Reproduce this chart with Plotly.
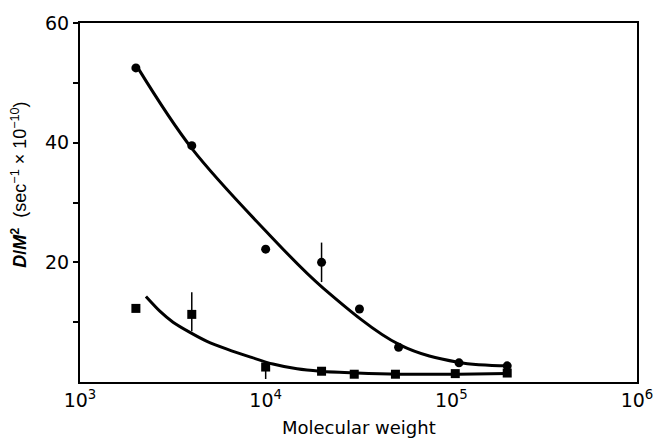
import plotly.graph_objects as go

# Circle series (data points)
circ_x = [2000, 4000, 10000, 20000, 32000, 52000, 110000, 200000]
circ_y = [52.5, 39.5, 22.2, 20.0, 12.2, 5.8, 3.2, 2.7]
circ_err = [0, 0, 0, 3.3, 0, 0, 0, 0]

# Square series (data points)
sq_x = [2000, 4000, 10000, 20000, 30000, 50000, 105000, 200000]
sq_y = [12.3, 11.3, 2.5, 1.8, 1.3, 1.3, 1.4, 1.5]
sq_err_plus = [0, 3.7, 0, 0, 0, 0, 0, 0]
sq_err_minus = [0, 2.8, 2.0, 0, 0, 0, 0, 0]

# Fitted curves
fit1_x = [2050, 4010, 10550, 20400, 52800, 108600, 200000]
fit1_y = [52.5, 39.0, 24.5, 15.7, 6.2, 3.3, 2.7]
fit2_x = [2265, 2700, 3170, 3910, 4830, 6190, 8220, 10940, 14750, 19600, 30900, 52800, 108600, 200000]
fit2_y = [14.3, 11.8, 10.0, 8.3, 6.8, 5.5, 4.2, 3.0, 2.2, 1.8, 1.5, 1.3, 1.3, 1.4]

x_tickvals = [1e3, 1e4, 1e5, 1e6]
x_ticktext = ["10<sup>3</sup>", "10<sup>4</sup>", "10<sup>5</sup>", "10<sup>6</sup>"]
y_tickvals = [20, 40, 60]
y_ticktext = ["20", "40", "60"]
y_minorvals = [10, 30, 50]

fig = go.Figure()
fig.add_trace(go.Scatter(x=fit1_x, y=fit1_y, mode="lines",
                         line=dict(color="black", width=3, shape="spline", smoothing=1.0)))
fig.add_trace(go.Scatter(x=fit2_x, y=fit2_y, mode="lines",
                         line=dict(color="black", width=3, shape="spline", smoothing=0.7)))
fig.add_trace(go.Scatter(x=circ_x, y=circ_y, mode="markers",
                         marker=dict(symbol="circle", size=9, color="black"),
                         error_y=dict(type="data", array=circ_err, visible=True,
                                      color="black", thickness=1.5, width=0)))
fig.add_trace(go.Scatter(x=sq_x, y=sq_y, mode="markers",
                         marker=dict(symbol="square", size=9, color="black"),
                         error_y=dict(type="data", symmetric=False, array=sq_err_plus,
                                      arrayminus=sq_err_minus, visible=True,
                                      color="black", thickness=1.5, width=0)))

fig.update_layout(
    width=657, height=440,
    margin=dict(l=80, r=20, t=23, b=58, autoexpand=False),
    paper_bgcolor="white", plot_bgcolor="white",
    showlegend=False,
    font=dict(family="DejaVu Sans", color="black"),
    xaxis=dict(type="log", range=[3, 6], tickvals=x_tickvals, ticktext=x_ticktext,
               ticks="", showgrid=False, zeroline=False, automargin=False,
               showline=True, mirror=True, linecolor="black", linewidth=2,
               tickfont=dict(size=19, family="DejaVu Sans")),
    yaxis=dict(range=[0, 60], tickvals=y_tickvals, ticktext=y_ticktext,
               ticks="outside", ticklen=5, tickwidth=1.5, tickcolor="black",
               minor=dict(tickvals=y_minorvals, ticks="outside", ticklen=5,
                          tickwidth=1.5, tickcolor="black", showgrid=False),
               showgrid=False, zeroline=False, automargin=False,
               showline=True, mirror=True, linecolor="black", linewidth=2,
               tickfont=dict(size=19, family="DejaVu Sans")),
    annotations=[
        dict(text="<b><i>D</i>/<i>M</i><sup>2</sup></b>  (sec<sup>−1</sup> × 10<sup>−10</sup>)",
             xref="paper", yref="paper", x=-0.108, y=0.549, textangle=-90,
             showarrow=False, font=dict(size=18, family="Liberation Sans"),
             xanchor="center", yanchor="middle"),
        dict(text="Molecular weight", xref="paper", yref="paper", x=0.5, y=-0.128,
             showarrow=False, font=dict(size=18, family="DejaVu Sans"),
             xanchor="center", yanchor="middle"),
    ],
)

fig.write_html("out.html", config={"displayModeBar": False},
               post_script="document.body.style.margin='0';")
